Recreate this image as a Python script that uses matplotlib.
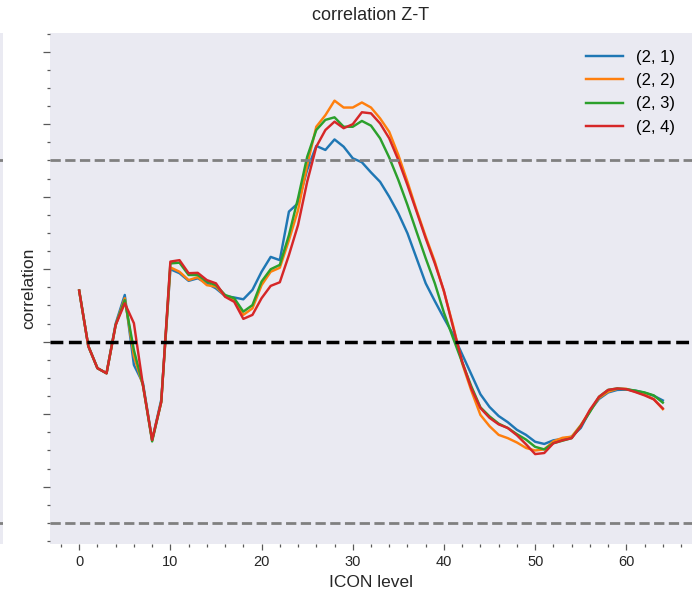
import matplotlib
matplotlib.use("Agg")
import matplotlib.pyplot as plt
from matplotlib.ticker import MultipleLocator, NullFormatter

levels = list(range(65))

corr_2_1 = [0.141, -0.012, -0.073, -0.087, 0.050, 0.129, -0.064, -0.115, -0.271, -0.160,
            0.200, 0.189, 0.168, 0.175, 0.161, 0.147, 0.126, 0.122, 0.117, 0.143,
            0.193, 0.234, 0.225, 0.359, 0.382, 0.474, 0.540, 0.529, 0.558, 0.538,
            0.506, 0.495, 0.467, 0.441, 0.400, 0.354, 0.299, 0.230, 0.161, 0.112,
            0.065, 0.020, -0.035, -0.090, -0.145, -0.180, -0.205, -0.222, -0.243, -0.257,
            -0.276, -0.282, -0.272, -0.268, -0.262, -0.238, -0.191, -0.158, -0.140, -0.133,
            -0.132, -0.135, -0.141, -0.149, -0.162]

corr_2_2 = [0.141, -0.012, -0.073, -0.087, 0.046, 0.120, -0.040, -0.121, -0.271, -0.166,
            0.205, 0.193, 0.170, 0.178, 0.156, 0.152, 0.126, 0.115, 0.074, 0.092,
            0.156, 0.193, 0.204, 0.280, 0.363, 0.487, 0.593, 0.625, 0.665, 0.646,
            0.646, 0.660, 0.646, 0.616, 0.579, 0.515, 0.441, 0.363, 0.290, 0.221,
            0.138, 0.045, -0.060, -0.135, -0.202, -0.233, -0.257, -0.266, -0.278, -0.293,
            -0.300, -0.297, -0.275, -0.265, -0.262, -0.230, -0.191, -0.155, -0.138, -0.130,
            -0.130, -0.138, -0.146, -0.158, -0.186]

corr_2_3 = [0.141, -0.012, -0.073, -0.087, 0.046, 0.115, -0.023, -0.121, -0.275, -0.166,
            0.216, 0.218, 0.184, 0.184, 0.166, 0.156, 0.129, 0.120, 0.083, 0.101,
            0.166, 0.200, 0.212, 0.294, 0.396, 0.510, 0.584, 0.612, 0.619, 0.593,
            0.593, 0.609, 0.596, 0.561, 0.508, 0.446, 0.377, 0.303, 0.230, 0.161,
            0.080, 0.010, -0.057, -0.123, -0.181, -0.206, -0.226, -0.238, -0.255, -0.270,
            -0.290, -0.297, -0.280, -0.273, -0.266, -0.232, -0.194, -0.152, -0.133, -0.129,
            -0.131, -0.135, -0.140, -0.148, -0.168]

corr_2_4 = [0.141, -0.012, -0.073, -0.087, 0.046, 0.106, 0.051, -0.121, -0.271, -0.166,
            0.221, 0.225, 0.189, 0.190, 0.170, 0.161, 0.124, 0.110, 0.063, 0.074,
            0.120, 0.154, 0.164, 0.239, 0.322, 0.441, 0.538, 0.584, 0.607, 0.589,
            0.600, 0.633, 0.630, 0.602, 0.561, 0.501, 0.432, 0.359, 0.285, 0.216,
            0.140, 0.040, -0.055, -0.129, -0.183, -0.210, -0.228, -0.238, -0.258, -0.283,
            -0.310, -0.307, -0.280, -0.272, -0.266, -0.234, -0.188, -0.152, -0.133, -0.129,
            -0.131, -0.139, -0.148, -0.159, -0.184]

series = {"(2, 1)": corr_2_1, "(2, 2)": corr_2_2, "(2, 3)": corr_2_3, "(2, 4)": corr_2_4}
colors = ["#1f77b4", "#ff7f0e", "#2ca02c", "#d62728"]
threshold = 0.5

plt.rcParams["font.family"] = ["Liberation Sans", "DejaVu Sans"]
bg = "#EAEAF2"
text_color = "0.15"

fig = plt.figure(figsize=(6.94, 5.95), dpi=100)
ax = fig.add_axes([50 / 694, 1 - 544 / 595, 642 / 694, 511 / 595])
ax.set_facecolor(bg)
for s in ax.spines.values():
    s.set_visible(False)

# neighbouring panel, only its right edge is in view
ax_left = fig.add_axes([-0.2, 1 - 544 / 595, 0.2 + 3 / 694, 511 / 595])
ax_left.set_facecolor(bg)
for s in ax_left.spines.values():
    s.set_visible(False)
ax_left.set_xticks([])
ax_left.set_yticks([])
ax_left.set_ylim(-0.558, 0.8516)
for y in (threshold, -threshold):
    ax_left.axhline(y, color="gray", lw=2, ls="--")

for (name, vals), c in zip(series.items(), colors):
    ax.plot(levels, vals, color=c, lw=1.75, label=name)

ax.axhline(0, color="black", lw=2.5, ls="--")
ax.axhline(threshold, color="gray", lw=2, ls="--")
ax.axhline(-threshold, color="gray", lw=2, ls="--")

ax.set_xlim(-3.2, 67.2)
ax.set_ylim(-0.558, 0.8516)
ax.xaxis.set_major_locator(MultipleLocator(10))
ax.xaxis.set_minor_locator(MultipleLocator(2))
ax.yaxis.set_major_locator(MultipleLocator(0.2))
ax.yaxis.set_minor_locator(MultipleLocator(0.05))
ax.yaxis.set_major_formatter(NullFormatter())
ax.tick_params(axis="both", which="major", length=4, width=0.9, color="0.35",
               labelcolor=text_color, labelsize=10.5, pad=4)
ax.tick_params(axis="both", which="minor", length=2, width=0.9, color="0.35")
ax.tick_params(axis="y", which="major", length=5)

ax.set_xlabel("ICON level", fontsize=12.5, color=text_color, labelpad=4)
ax.set_ylabel("correlation", fontsize=12.5, color=text_color)
ax.yaxis.set_label_coords(-0.022, 0.5)
ax.set_title("correlation Z-T", fontsize=13, color=text_color, pad=9)

ax.legend(loc="upper right", frameon=False, fontsize=12, handlelength=2.2,
          labelspacing=0.5, borderaxespad=0.6)

fig.savefig("out.png", dpi=100, facecolor="white")
